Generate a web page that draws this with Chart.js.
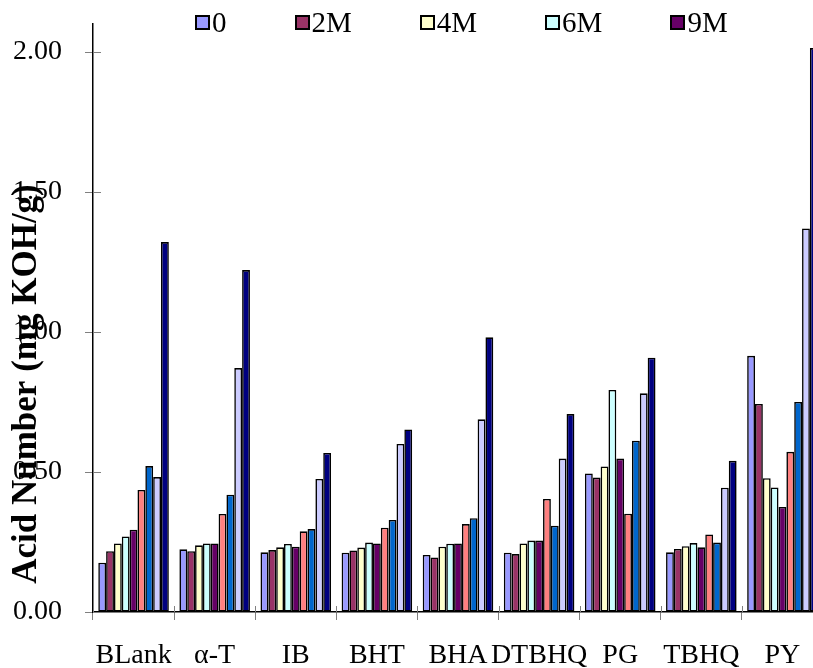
<!DOCTYPE html>
<html>
<head>
<meta charset="utf-8">
<script src="https://cdn.jsdelivr.net/npm/chart.js@4.4.0/dist/chart.umd.min.js"></script>
<style>
  body { margin: 0; background: #fff; overflow: hidden; width: 813px; height: 668px; }
  #wrap { position: relative; width: 840px; height: 668px; }
  #legend {
    position: absolute; top: 6px; left: 195px;
    display: flex; align-items: center; gap: 68px;
    font-family: "Liberation Serif", "Times New Roman", serif; font-size: 29px; line-height: 32px;
  }
  #legend .item { display: flex; align-items: center; }
  #legend .box { width: 11px; height: 11px; border: 2px solid #000; margin-right: 2px; }
</style>
</head>
<body>
<div id="wrap">
  <canvas id="acidChart" width="840" height="668"></canvas>
  <div id="legend"></div>
</div>
<script>
const categories = ['BLank', 'α-T', 'IB', 'BHT', 'BHA', 'DTBHQ', 'PG', 'TBHQ', 'PY'];
const seriesNames = ['0', '2M', '4M', '6M', '9M', '12M', '15M', '18M', '24M'];
const yTicks = [0, 0.5, 1.0, 1.5, 2.0];

const s0   = [0.176, 0.224, 0.213, 0.212, 0.204, 0.212, 0.495, 0.213, 0.915];
const s2M  = [0.217, 0.217, 0.221, 0.220, 0.195, 0.207, 0.480, 0.225, 0.743];
const s4M  = [0.245, 0.238, 0.231, 0.230, 0.233, 0.245, 0.520, 0.235, 0.478];
const s6M  = [0.270, 0.245, 0.243, 0.248, 0.244, 0.255, 0.793, 0.246, 0.445];
const s9M  = [0.294, 0.245, 0.233, 0.245, 0.245, 0.255, 0.548, 0.231, 0.375];
const s12M = [0.436, 0.350, 0.288, 0.301, 0.314, 0.404, 0.351, 0.277, 0.572];
const s15M = [0.521, 0.419, 0.296, 0.329, 0.335, 0.308, 0.612, 0.248, 0.750];
const s18M = [0.482, 0.871, 0.475, 0.600, 0.688, 0.548, 0.781, 0.444, 1.370];
const s24M = [1.321, 1.221, 0.568, 0.652, 0.981, 0.707, 0.908, 0.540, 2.014];

const seriesValues = [s0, s2M, s4M, s6M, s9M, s12M, s15M, s18M, s24M];
const colors = ['#9999FF', '#993366', '#FFFFCC', '#CCFFFF', '#660066', '#FF8080', '#0066CC', '#CCCCFF', '#000080'];
const legendCount = 5;

const serif = '"Liberation Serif", "Times New Roman", serif';

// y axis title drawn by hand so it can sit off-centre like the original
const yTitle = {
    id: 'yTitle',
    afterDraw(chart) {
        const ctx = chart.ctx;
        ctx.save();
        ctx.translate(27, 384);
        ctx.rotate(-Math.PI / 2);
        ctx.font = 'bold 35px ' + serif;
        ctx.fillStyle = '#000';
        ctx.textAlign = 'center';
        ctx.textBaseline = 'middle';
        ctx.fillText('Acid Number (mg KOH/g)', 0, 0);
        ctx.restore();
    }
};

// excel style tick marks that cross the axis line: add the inner half
const innerTicks = {
    id: 'innerTicks',
    afterDatasetsDraw(chart) {
        const { ctx, scales: { x, y }, chartArea } = chart;
        ctx.save();
        ctx.strokeStyle = '#808080';
        ctx.lineWidth = 1;
        ctx.beginPath();
        yTicks.forEach(v => {
            const py = Math.round(y.getPixelForValue(v)) + 0.5;
            ctx.moveTo(chartArea.left, py);
            ctx.lineTo(chartArea.left + 8, py);
        });
        const step = (chartArea.right - chartArea.left) / categories.length;
        for (let i = 0; i <= categories.length; i++) {
            const px = Math.round(x.getPixelForValue(i) - step / 2) + 0.5;
            ctx.moveTo(px, chartArea.bottom - 6);
            ctx.lineTo(px, chartArea.bottom);
        }
        ctx.stroke();
        ctx.restore();
    }
};

const chart = new Chart(document.getElementById('acidChart').getContext('2d'), {
    type: 'bar',
    data: {
        labels: categories,
        datasets: seriesNames.map((name, i) => ({
            label: name,
            data: seriesValues[i],
            backgroundColor: colors[i],
            borderColor: '#000',
            borderWidth: 1.6,
            borderSkipped: false,
            categoryPercentage: 0.87,
            barPercentage: 1.0
        }))
    },
    options: {
        responsive: false,
        animation: false,
        layout: { padding: { top: 24, right: 17, left: 0, bottom: 0 } },
        plugins: {
            legend: { display: false },
            tooltip: { enabled: false }
        },
        scales: {
            x: {
                grid: { drawOnChartArea: false, drawTicks: true, tickLength: 8, color: '#808080' },
                border: { color: '#000', width: 1.5 },
                ticks: {
                    autoSkip: false, maxRotation: 0, padding: 19,
                    color: '#000', font: { family: serif, size: 28 }
                },
                afterFit(scale) { scale.height = 56; }
            },
            y: {
                min: 0, max: 2.1,
                grid: { drawOnChartArea: false, drawTicks: true, tickLength: 8, color: '#808080' },
                border: { color: '#000', width: 1.5 },
                ticks: {
                    padding: 23, color: '#000', font: { family: serif, size: 28 },
                    callback: v => v.toFixed(2)
                },
                afterBuildTicks(scale) { scale.ticks = yTicks.map(v => ({ value: v })); },
                afterFit(scale) {
                    scale.width = 93;
                    scale.paddingTop = 0;
                    scale.paddingBottom = 0;
                }
            }
        }
    },
    plugins: [yTitle, innerTicks]
});

const legendEl = document.getElementById('legend');
chart.data.datasets.slice(0, legendCount).forEach(ds => {
    const item = document.createElement('div');
    item.className = 'item';
    const box = document.createElement('span');
    box.className = 'box';
    box.style.background = ds.backgroundColor;
    item.appendChild(box);
    item.appendChild(document.createTextNode(ds.label));
    legendEl.appendChild(item);
});
</script>
</body>
</html>
